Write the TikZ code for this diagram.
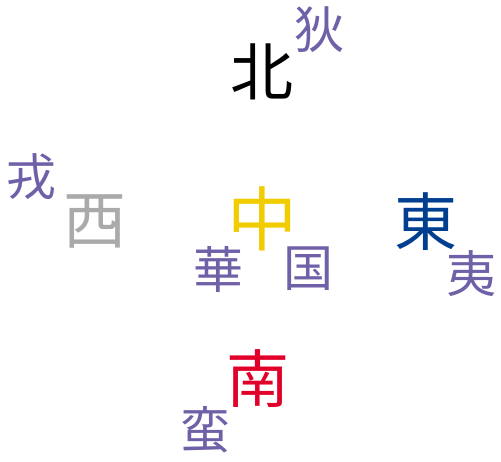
\documentclass[tikz,border=0pt]{standalone}
\usepackage{fontspec}
\newfontfamily\cjk{Noto Sans CJK JP}
\definecolor{barb}{RGB}{112,96,168}
\definecolor{cyellow}{RGB}{240,204,0}
\definecolor{cblue}{RGB}{0,63,143}
\definecolor{cred}{RGB}{224,0,42}
\definecolor{cgray}{RGB}{170,170,170}
\begin{document}
\begin{tikzpicture}[x=1pt,y=-1pt,
  big/.style={inner sep=0pt,font=\cjk\fontsize{63}{63}\selectfont},
  small/.style={inner sep=0pt,text=barb,font=\cjk\fontsize{50}{50}\selectfont}]
\useasboundingbox (0,0) rectangle (501,462);
\node[big,text=black] (bei) at (262,72) {北};
\node[small] (di) at (319,30) {狄};
\node[small] (rong) at (31,177) {戎};
\node[big,text=cgray] (xi) at (95,221) {西};
\node[big,text=cyellow,font=\cjk\fontsize{70}{70}\selectfont] (zhong) at (262,219) {中};
\node[small] (hua) at (218,270) {華};
\node[small] (guo) at (308,269) {国};
\node[big,text=cblue] (dong) at (426,222) {東};
\node[small] (yi) at (471,274) {夷};
\node[big,text=cred] (nan) at (258,379) {南};
\node[small] (man) at (205,430) {蛮};
\end{tikzpicture}
\end{document}
